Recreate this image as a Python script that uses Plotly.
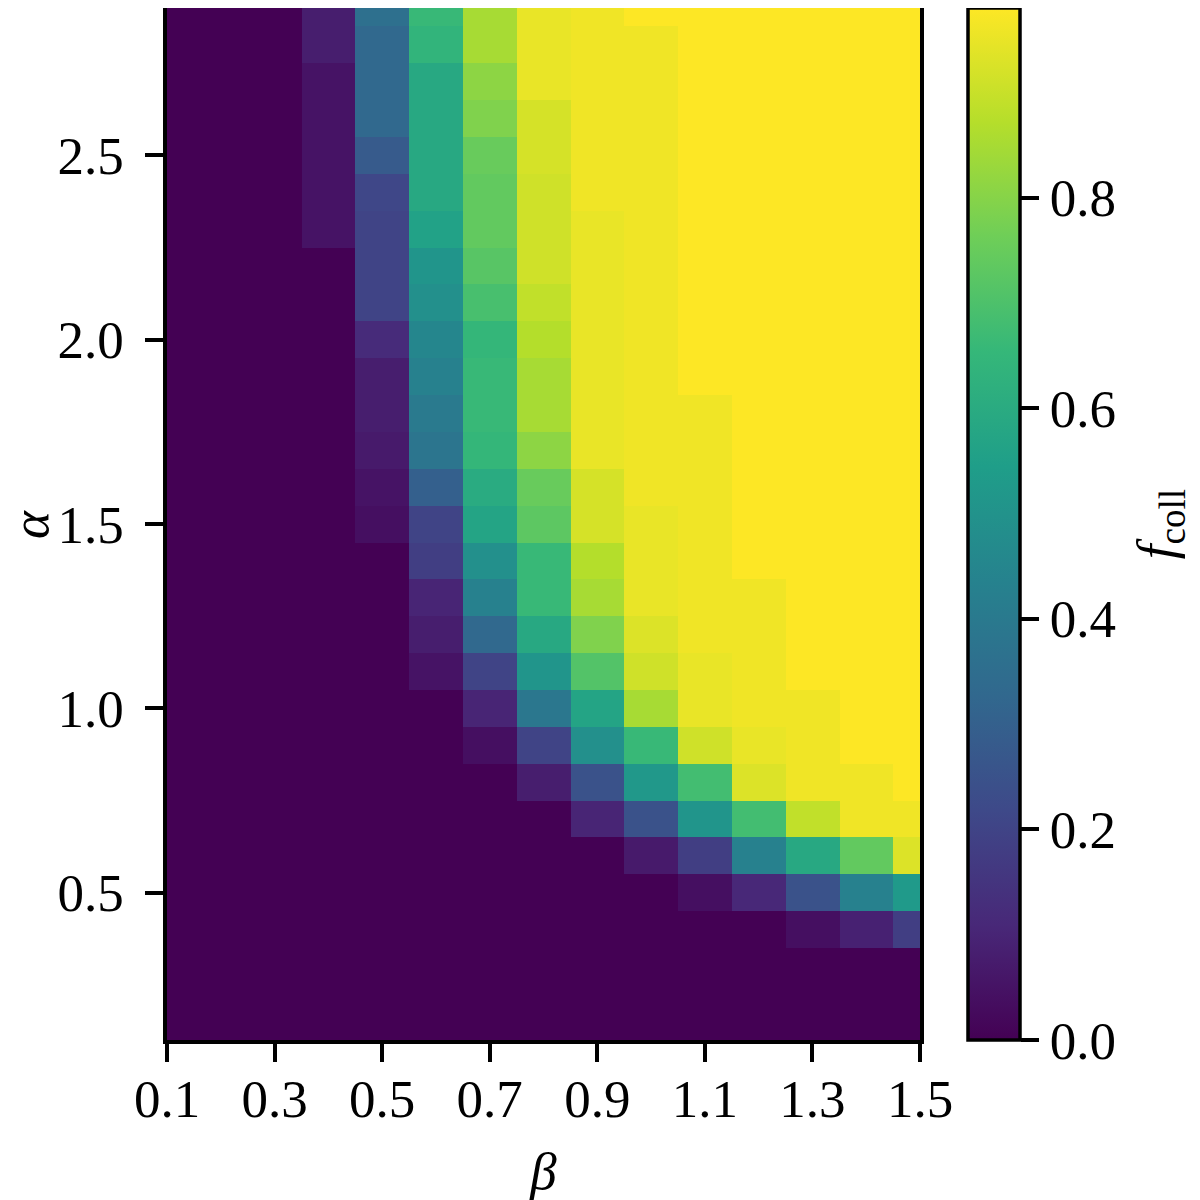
import plotly.graph_objects as go

beta = [0.1, 0.2, 0.3, 0.4, 0.5, 0.6, 0.7, 0.8, 0.9, 1.0, 1.1, 1.2, 1.3, 1.4, 1.5]
alpha = [0.1, 0.2, 0.3, 0.4, 0.5, 0.6, 0.7, 0.8, 0.9, 1.0,
         1.1, 1.2, 1.3, 1.4, 1.5, 1.6, 1.7, 1.8, 1.9, 2.0,
         2.1, 2.2, 2.3, 2.4, 2.5, 2.6, 2.7, 2.8, 2.9]

# one row per alpha (bottom to top), one value per beta
f_coll = [
    [0, 0, 0, 0, 0, 0, 0, 0, 0, 0, 0, 0, 0, 0, 0],
    [0, 0, 0, 0, 0, 0, 0, 0, 0, 0, 0, 0, 0, 0, 0],
    [0, 0, 0, 0, 0, 0, 0, 0, 0, 0, 0, 0, 0, 0, 0],
    [0, 0, 0, 0, 0, 0, 0, 0, 0, 0, 0, 0, 0.04, 0.09, 0.18],
    [0, 0, 0, 0, 0, 0, 0, 0, 0, 0, 0.04, 0.11, 0.25, 0.43, 0.53],
    [0, 0, 0, 0, 0, 0, 0, 0, 0, 0.07, 0.18, 0.43, 0.59, 0.74, 0.93],
    [0, 0, 0, 0, 0, 0, 0, 0, 0.10, 0.25, 0.51, 0.68, 0.89, 0.96, 0.96],
    [0, 0, 0, 0, 0, 0, 0, 0.08, 0.25, 0.52, 0.68, 0.93, 0.96, 0.96, 0.98],
    [0, 0, 0, 0, 0, 0, 0.04, 0.20, 0.49, 0.66, 0.91, 0.95, 0.96, 0.98, 0.98],
    [0, 0, 0, 0, 0, 0, 0.10, 0.39, 0.57, 0.85, 0.95, 0.96, 0.96, 0.98, 0.98],
    [0, 0, 0, 0, 0, 0.05, 0.20, 0.51, 0.71, 0.91, 0.95, 0.96, 0.98, 0.98, 0.98],
    [0, 0, 0, 0, 0, 0.08, 0.33, 0.59, 0.79, 0.93, 0.96, 0.96, 0.98, 0.98, 0.98],
    [0, 0, 0, 0, 0, 0.10, 0.43, 0.66, 0.85, 0.95, 0.96, 0.96, 0.98, 0.98, 0.98],
    [0, 0, 0, 0, 0, 0.18, 0.49, 0.66, 0.87, 0.95, 0.96, 0.98, 0.98, 0.98, 0.98],
    [0, 0, 0, 0, 0.04, 0.20, 0.57, 0.73, 0.92, 0.95, 0.96, 0.98, 0.98, 0.98, 0.98],
    [0, 0, 0, 0, 0.05, 0.30, 0.60, 0.75, 0.92, 0.96, 0.96, 0.98, 0.98, 0.98, 0.98],
    [0, 0, 0, 0, 0.07, 0.38, 0.65, 0.81, 0.95, 0.96, 0.96, 0.98, 0.98, 0.98, 0.98],
    [0, 0, 0, 0, 0.08, 0.40, 0.66, 0.85, 0.95, 0.96, 0.96, 0.98, 0.98, 0.98, 0.98],
    [0, 0, 0, 0, 0.08, 0.43, 0.66, 0.85, 0.95, 0.96, 0.98, 0.98, 0.98, 0.98, 0.98],
    [0, 0, 0, 0, 0.12, 0.45, 0.65, 0.87, 0.95, 0.96, 0.98, 0.98, 0.98, 0.98, 0.98],
    [0, 0, 0, 0, 0.20, 0.49, 0.69, 0.89, 0.95, 0.96, 0.98, 0.98, 0.98, 0.98, 0.98],
    [0, 0, 0, 0, 0.20, 0.51, 0.72, 0.91, 0.95, 0.96, 0.98, 0.98, 0.98, 0.98, 0.98],
    [0, 0, 0, 0.05, 0.20, 0.56, 0.74, 0.91, 0.95, 0.96, 0.98, 0.98, 0.98, 0.98, 0.98],
    [0, 0, 0, 0.05, 0.21, 0.59, 0.74, 0.91, 0.96, 0.96, 0.98, 0.98, 0.98, 0.98, 0.98],
    [0, 0, 0, 0.05, 0.28, 0.59, 0.75, 0.92, 0.96, 0.96, 0.98, 0.98, 0.98, 0.98, 0.98],
    [0, 0, 0, 0.05, 0.33, 0.59, 0.79, 0.92, 0.96, 0.96, 0.98, 0.98, 0.98, 0.98, 0.98],
    [0, 0, 0, 0.05, 0.33, 0.59, 0.81, 0.95, 0.96, 0.96, 0.98, 0.98, 0.98, 0.98, 0.98],
    [0, 0, 0, 0.08, 0.33, 0.64, 0.85, 0.95, 0.96, 0.96, 0.98, 0.98, 0.98, 0.98, 0.98],
    [0, 0, 0, 0.08, 0.36, 0.66, 0.85, 0.95, 0.96, 0.98, 0.98, 0.98, 0.98, 0.98, 0.98],
]

x_ticks = [0.1, 0.3, 0.5, 0.7, 0.9, 1.1, 1.3, 1.5]
y_ticks = [0.5, 1.0, 1.5, 2.0, 2.5]
cbar_ticks = [0.0, 0.2, 0.4, 0.6, 0.8]

font = "Liberation Serif"
fsize = 53
black_font = dict(family=font, size=fsize, color="black")

fig = go.Figure(go.Heatmap(
    x=beta,
    y=alpha,
    z=f_coll,
    colorscale="Viridis",
    zmin=0,
    zmax=max(max(r) for r in f_coll),
    zsmooth=False,
    colorbar=dict(
        x=1.0637, xanchor="left", xpad=0, ypad=0,
        y=0.5, yanchor="middle", len=1, lenmode="fraction",
        thickness=52, thicknessmode="pixels",
        outlinewidth=3.5, outlinecolor="black",
        ticks="outside", ticklen=18, tickwidth=3.5, tickcolor="black",
        tickvals=cbar_ticks, tickformat=".1f",
        tickprefix="\u2009\u2009\u200a",
        tickfont=black_font,
    ),
))

axis_style = dict(
    showline=True, linecolor="black", linewidth=3.5, mirror=True,
    ticks="outside", ticklen=18, tickwidth=3.5, tickcolor="black",
    showgrid=False, zeroline=False,
    tickfont=black_font,
    tickformat=".1f",
)

fig.update_xaxes(axis_style, range=[0.1, 1.5], tickvals=x_ticks,
                 ticklabelstandoff=-8,
                 title=dict(text="<i>β</i>", standoff=30, font=black_font))
fig.update_yaxes(axis_style, range=[0.1, 2.9], tickvals=y_ticks,
                 ticklabelstandoff=11)

# axis label for alpha and colorbar label as rotated annotations
fig.add_annotation(
    text="<i>α</i>", xref="paper", yref="paper",
    x=-0.182, y=0.5, xanchor="center", yanchor="middle",
    textangle=-90, showarrow=False, font=black_font, borderpad=0,
)
fig.add_annotation(
    text="<i>f</i><sub>coll</sub>", xref="paper", yref="paper",
    x=1.319, y=0.5, xanchor="center", yanchor="middle",
    textangle=-90, showarrow=False, font=black_font, borderpad=0,
)

# page body adds an 8px margin, so the figure is 1192 wide/high
fig.update_layout(
    width=1192, height=1192, autosize=False,
    margin=dict(l=159, r=280, t=0, b=160, autoexpand=False),
    paper_bgcolor="white", plot_bgcolor="white",
)

fig.write_html("out.html")
